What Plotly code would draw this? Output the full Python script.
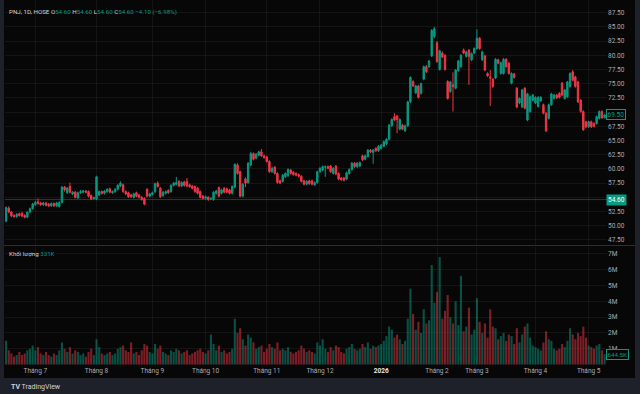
import pandas as pd
import plotly.graph_objects as go
from plotly.subplots import make_subplots

# ---------------- data ----------------
open_ = [50.8, 53.1, 52.4, 51.8, 51.6, 52.1, 52.2, 51.8, 51.5, 52.4, 53.0,
         53.7, 54.2, 54.0, 53.7, 54.0, 53.8, 53.5, 53.9, 53.5, 53.4,
         54.1, 56.8, 55.8, 56.9, 55.6, 55.9, 54.9, 55.8, 55.9, 56.1,
         56.0, 55.3, 54.8, 54.7, 55.4, 56.0, 55.7, 56.0, 56.5, 55.8,
         56.0, 56.4, 57.0, 57.2, 56.0, 55.8, 55.4, 55.0, 55.8, 55.4,
         55.0, 54.8, 56.4, 55.2, 55.5, 56.0, 57.5, 56.6, 55.3, 55.7,
         56.2, 56.0, 57.1, 57.3, 57.8, 57.0, 57.7, 57.8, 57.2, 57.0,
         56.9, 56.6, 56.0, 55.2, 54.8, 55.0, 54.7, 54.6, 55.7, 56.7,
         55.7, 56.6, 56.5, 56.3, 55.7, 56.8, 60.7, 59.5, 55.2, 58.2,
         57.6, 60.7, 62.7, 61.9, 62.4, 63.0, 62.3, 62.1, 61.3, 59.5,
         60.3, 59.2, 57.9, 57.8, 58.6, 58.8, 59.8, 59.4, 59.2, 59.0,
         58.7, 57.9, 57.3, 57.9, 57.9, 57.2, 57.6, 59.5, 59.8, 60.3,
         60.4, 60.5, 59.2, 60.5, 59.2, 58.4, 58.4, 58.2, 59.2, 59.9,
         61.0, 60.4, 60.5, 62.3, 61.7, 62.2, 63.3, 62.9, 63.6, 63.2,
         63.6, 64.0, 64.4, 65.2, 67.6, 69.2, 69.3, 67.0, 67.7, 66.7,
         67.6, 71.8, 75.4, 73.4, 74.6, 73.3, 75.8, 78.0, 78.0, 79.9,
         83.3, 82.2, 77.5, 80.4, 80.0, 75.4, 73.6, 74.8, 74.2, 77.3,
         78.0, 80.9, 79.8, 80.9, 79.2, 80.4, 81.2, 83.0, 79.2, 79.9,
         76.8, 76.2, 75.8, 76.0, 79.2, 76.8, 76.8, 79.3, 78.6, 75.1,
         76.7, 74.2, 71.6, 70.9, 74.2, 68.6, 70.1, 72.1, 71.6, 71.0,
         72.0, 71.3, 69.8, 68.9, 71.3, 72.4, 73.0, 73.3, 75.1, 72.4,
         72.7, 74.5, 77.1, 76.2, 75.3, 72.1, 70.1, 68.3, 67.4, 68.3,
         68.0, 68.0, 68.9, 70.1, 69.0]

high = [53.4, 53.4, 52.6, 52.0, 52.2, 52.3, 52.4, 52.0, 52.5, 53.2, 54.0,
        54.4, 54.8, 54.2, 54.2, 54.2, 54.0, 54.1, 54.1, 54.2, 54.3,
        57.0, 57.0, 56.8, 57.6, 56.1, 56.1, 56.0, 56.3, 56.3, 56.3,
        56.2, 55.5, 55.1, 58.8, 56.2, 56.2, 56.3, 56.6, 56.7, 56.2,
        56.6, 57.3, 57.8, 57.4, 56.2, 56.0, 55.6, 55.8, 56.0, 55.6,
        55.2, 55.0, 56.6, 55.8, 56.0, 57.6, 57.8, 56.8, 56.1, 56.2,
        56.4, 57.3, 57.7, 58.6, 58.0, 57.8, 57.9, 58.4, 57.4, 57.2,
        57.1, 56.8, 56.2, 55.4, 55.3, 55.2, 55.0, 56.1, 56.3, 56.9,
        56.5, 56.8, 56.7, 56.5, 57.1, 61.0, 61.0, 59.7, 57.5, 58.5,
        61.2, 63.0, 62.9, 62.8, 63.2, 63.5, 62.5, 62.3, 61.5, 60.4,
        60.5, 59.4, 58.1, 59.1, 59.4, 60.1, 60.0, 59.6, 59.4, 59.2,
        58.9, 58.1, 58.0, 58.1, 58.1, 57.8, 59.7, 60.3, 60.6, 60.6,
        60.6, 60.7, 60.3, 60.7, 59.4, 58.6, 58.6, 59.5, 60.1, 61.2,
        61.2, 61.2, 61.3, 62.5, 62.5, 63.5, 63.5, 63.5, 63.8, 64.2,
        64.4, 65.0, 65.4, 67.9, 68.9, 69.8, 69.5, 68.9, 67.9, 67.8,
        72.0, 76.3, 75.6, 74.8, 74.8, 75.2, 78.2, 78.3, 79.2, 84.6,
        85.0, 82.5, 81.0, 80.7, 80.2, 75.6, 75.5, 77.0, 77.6, 79.2,
        80.2, 81.2, 80.8, 81.1, 80.5, 81.4, 84.6, 83.2, 80.8, 80.1,
        77.0, 77.4, 76.0, 79.5, 79.4, 78.9, 79.5, 79.5, 78.8, 77.0,
        76.9, 74.4, 72.6, 74.1, 74.4, 73.4, 72.9, 73.2, 72.8, 72.8,
        72.8, 71.5, 70.0, 71.5, 73.4, 73.2, 73.2, 73.5, 75.3, 74.1,
        75.5, 77.0, 77.4, 76.4, 75.5, 72.3, 70.3, 68.5, 68.5, 68.5,
        68.2, 69.4, 70.3, 70.3, 69.7]

low = [50.6, 52.2, 51.5, 51.4, 51.4, 51.6, 51.5, 51.3, 51.3, 52.2, 52.8,
       53.5, 53.7, 53.5, 53.5, 53.4, 53.3, 53.3, 53.3, 53.3, 53.2,
       53.9, 56.0, 55.6, 55.7, 55.4, 54.8, 54.7, 55.6, 55.7, 55.7,
       55.0, 54.5, 54.6, 54.5, 55.2, 55.5, 55.5, 55.8, 55.7, 55.6,
       55.8, 56.2, 56.8, 55.8, 55.4, 54.9, 54.9, 54.8, 55.0, 54.8,
       54.4, 53.6, 55.0, 55.0, 55.3, 55.8, 56.7, 54.9, 55.1, 55.5,
       55.6, 55.8, 56.9, 57.1, 56.8, 56.8, 56.9, 56.8, 56.7, 56.4,
       55.8, 55.5, 54.8, 54.6, 54.6, 54.4, 54.5, 54.4, 55.5, 55.0,
       55.5, 55.7, 55.7, 55.5, 55.5, 56.6, 59.0, 55.0, 55.0, 56.8,
       57.4, 60.5, 61.5, 61.7, 62.2, 62.1, 61.8, 61.1, 59.3, 59.3,
       59.0, 57.4, 57.3, 57.6, 58.4, 58.6, 59.0, 58.8, 58.7, 58.5,
       57.6, 57.1, 57.1, 57.2, 57.1, 57.0, 57.4, 59.3, 59.6, 58.6,
       59.9, 59.3, 59.0, 58.9, 58.0, 57.9, 57.8, 58.0, 59.0, 59.7,
       60.2, 60.2, 60.3, 61.4, 61.5, 62.0, 62.8, 60.9, 63.0, 63.0,
       63.4, 63.8, 64.2, 65.0, 67.4, 68.4, 66.3, 66.8, 66.8, 66.5,
       67.4, 71.6, 74.4, 73.2, 72.4, 73.1, 75.6, 76.9, 77.8, 79.7,
       83.0, 78.7, 77.3, 79.5, 77.3, 72.2, 73.4, 70.1, 74.0, 77.1,
       77.8, 80.2, 79.6, 74.8, 79.0, 80.2, 81.0, 81.0, 79.0, 77.2,
       76.2, 71.1, 74.3, 75.8, 78.4, 76.6, 76.6, 77.8, 76.6, 74.9,
       75.9, 70.7, 71.4, 70.7, 70.5, 68.4, 69.9, 71.9, 71.4, 70.8,
       71.8, 69.6, 66.5, 68.7, 71.1, 72.2, 72.3, 72.4, 72.8, 72.2,
       72.5, 74.3, 75.4, 74.3, 71.6, 69.9, 66.7, 67.2, 67.2, 67.2,
       67.3, 67.8, 68.7, 68.8, 68.9]

close = [53.2, 52.4, 51.7, 51.6, 52.0, 51.8, 51.7, 51.5, 52.4, 53.0, 53.8,
         54.1, 53.9, 53.7, 54.0, 53.6, 53.5, 53.9, 53.5, 54.0, 54.1,
         56.8, 56.3, 56.6, 55.9, 55.9, 55.0, 55.8, 56.0, 56.1, 55.9,
         55.2, 54.7, 54.9, 58.6, 56.0, 55.7, 56.1, 56.4, 55.9, 56.0,
         56.4, 57.1, 57.5, 56.0, 55.6, 55.1, 55.1, 55.6, 55.2, 55.0,
         54.6, 53.8, 55.2, 55.6, 55.8, 57.4, 56.9, 55.1, 55.9, 56.0,
         55.8, 57.1, 57.5, 57.6, 57.0, 57.6, 57.1, 57.0, 56.9, 56.6,
         56.0, 55.7, 55.0, 54.8, 55.1, 54.6, 54.8, 55.9, 56.1, 55.2,
         56.3, 55.9, 55.9, 55.7, 56.9, 60.8, 59.2, 55.2, 57.3, 57.5,
         61.0, 62.7, 61.7, 62.6, 63.0, 62.3, 62.0, 61.3, 59.5, 60.1,
         59.2, 57.6, 57.5, 58.9, 59.2, 59.9, 59.2, 59.0, 58.9, 58.7,
         57.8, 57.3, 57.8, 57.4, 57.3, 57.6, 59.5, 60.1, 60.4, 60.4,
         60.1, 59.5, 60.1, 59.1, 58.2, 58.1, 58.0, 59.3, 59.9, 61.0,
         60.4, 61.0, 61.1, 61.6, 62.3, 63.3, 63.0, 63.3, 63.2, 64.0,
         64.2, 64.8, 65.2, 67.7, 68.7, 68.6, 68.7, 68.7, 67.0, 67.6,
         71.8, 76.1, 74.6, 74.6, 72.6, 75.0, 78.0, 77.1, 79.0, 84.4,
         84.7, 78.9, 80.8, 79.7, 77.5, 72.4, 75.3, 74.5, 77.4, 79.0,
         80.0, 80.4, 80.6, 79.8, 80.3, 81.2, 83.0, 81.2, 80.6, 77.4,
         76.4, 76.0, 74.5, 79.3, 78.6, 78.7, 79.3, 78.0, 76.8, 76.8,
         76.1, 70.9, 72.4, 73.9, 70.7, 73.2, 72.7, 73.0, 72.6, 72.6,
         72.6, 69.8, 66.7, 71.3, 73.2, 73.0, 72.5, 72.6, 73.0, 73.9,
         75.3, 76.8, 75.6, 74.5, 71.8, 70.1, 66.9, 67.4, 68.3, 67.4,
         67.5, 69.2, 70.1, 69.0, 69.5]

# volume in millions of shares
volume_m = [1.5, 0.9, 0.7, 0.5, 0.6, 0.8, 0.6, 0.7, 0.9, 1.0, 1.2,
            0.9, 1.1, 0.7, 0.6, 0.8, 0.6, 0.5, 0.7, 0.6, 0.9,
            1.4, 1.0, 0.8, 1.1, 0.7, 0.9, 0.8, 0.6, 0.7, 0.5,
            0.8, 1.0, 0.6, 1.6, 1.1, 0.7, 0.6, 0.7, 0.8, 0.6,
            0.7, 1.0, 1.1, 1.2, 0.9, 0.8, 1.4, 0.7, 0.8, 0.6,
            0.9, 1.3, 1.2, 0.8, 0.7, 1.3, 1.0, 1.2, 0.8, 0.7,
            0.6, 0.9, 0.8, 1.0, 0.9, 0.7, 0.8, 0.9, 0.6, 0.7,
            0.8, 0.9, 1.0, 0.8, 0.7, 0.9, 1.9, 1.3, 0.9, 1.2,
            0.8, 0.9, 0.7, 0.8, 1.0, 2.9, 2.0, 2.3, 1.6, 1.2,
            1.9, 1.7, 1.4, 1.0, 1.1, 1.2, 0.8, 1.0, 1.3, 1.1,
            1.0, 1.4, 0.9, 1.0, 0.9, 1.1, 0.8, 0.7, 0.8, 0.9,
            1.2, 1.0, 0.8, 0.9, 0.8, 0.7, 1.4, 1.2, 1.6, 1.0,
            0.8, 1.1, 0.9, 1.2, 1.1, 0.8, 0.7, 1.0, 1.1, 1.3,
            1.0, 0.9, 1.0, 1.3, 1.1, 1.4, 1.0, 1.2, 1.1, 1.2,
            1.3, 1.5, 1.8, 2.4, 2.2, 1.7, 1.9, 1.6, 1.3, 1.5,
            2.9, 4.8, 3.2, 2.2, 2.7, 2.0, 3.5, 2.6, 2.8, 6.3,
            3.9, 4.6, 6.8, 2.9, 3.4, 4.4, 3.0, 2.6, 4.0, 2.5,
            5.6, 2.1, 2.4, 3.6, 1.9, 2.2, 4.2, 2.7, 2.0, 2.6,
            1.7, 3.5, 2.4, 2.3, 1.6, 1.8, 2.0, 1.5, 1.9, 1.8,
            1.3, 2.3, 1.4, 1.9, 2.4, 2.6, 1.7, 1.2, 1.1, 1.0,
            0.9, 1.4, 2.1, 1.6, 1.5, 1.0, 0.9, 1.0, 1.3, 1.1,
            1.5, 2.3, 1.9, 1.6, 2.0, 1.8, 2.4, 1.7, 1.2, 1.1,
            1.0, 1.2, 1.3, 0.9, 0.6445]

price_tick_vals = [47.5, 50.0, 52.5, 55.0, 57.5, 60.0, 62.5, 65.0, 67.5,
                   70.0, 72.5, 75.0, 77.5, 80.0, 82.5, 85.0, 87.5]
price_tick_text = ["47.50", "50.00", "52.50", "55.00", "57.50", "60.00",
                   "62.50", "65.00", "67.50", "70.00", "72.50", "75.00",
                   "77.50", "80.00", "82.50", "85.00", "87.50"]
vol_tick_vals = [1, 2, 3, 4, 5, 6, 7]
vol_tick_text = ["1M", "2M", "3M", "4M", "5M", "6M", "7M"]
month_labels = ["Tháng 7", "Tháng 8", "Tháng 9", "Tháng 10", "Tháng 11",
                "Tháng 12", '<b><span style="color:#e6e8ee">2026</span></b>',
                "Tháng 2", "Tháng 3", "Tháng 4", "Tháng 5"]
holidays = ["2025-09-01", "2025-09-02", "2026-01-01", "2026-02-16",
            "2026-02-17", "2026-02-18", "2026-02-19", "2026-02-20",
            "2026-04-27", "2026-04-30", "2026-05-01"]

# ---------------- trading calendar -> bar index ----------------
days = pd.bdate_range("2025-06-16", "2026-06-30")
days = days[~days.isin(pd.to_datetime(holidays))][:len(close)]
xs = list(range(len(close)))
month_idx = [i for i in range(1, len(days)) if days[i].month != days[i - 1].month]

UP = "#089981"
DOWN = "#f23645"
BG = "#070707"
FRAME = "#1f212a"
GRID = "rgba(255,255,255,0.055)"
TXT = "#a9acb5"
FONT = "Roboto"

W, H = 640, 394
ML, MR, MT, MB = 5, 33, 0, 29
PW, PH = W - ML - MR, H - MT - MB


def px_x(p):
    return (p - ML) / PW


def px_y(p):
    return (H - MB - p) / PH


fig = make_subplots(rows=2, cols=1, shared_xaxes=True)

fig.add_trace(go.Candlestick(
    x=xs, open=open_, high=high, low=low, close=close,
    increasing=dict(line=dict(color=UP, width=1), fillcolor=UP),
    decreasing=dict(line=dict(color=DOWN, width=1), fillcolor=DOWN),
    whiskerwidth=0, hoverinfo="skip", showlegend=False), row=1, col=1)

vol_colors = ["rgba(8,153,129,0.5)" if c >= o else "rgba(242,54,69,0.5)"
              for o, c in zip(open_, close)]
fig.add_trace(go.Bar(x=xs, y=volume_m, marker=dict(color=vol_colors, line=dict(width=0)),
                     hoverinfo="skip", showlegend=False), row=2, col=1)

xr = [-0.4, len(close) - 0.1]
common_x = dict(range=xr, tickvals=month_idx, ticktext=month_labels, showgrid=True,
                gridcolor=GRID, gridwidth=1, zeroline=False, showline=False, ticks="",
                rangeslider=dict(visible=False), fixedrange=True)
fig.update_xaxes(**common_x)
fig.update_xaxes(showticklabels=False, row=1, col=1)
fig.update_xaxes(showticklabels=True, tickfont=dict(size=6.5, color=TXT, family=FONT),
                 row=2, col=1)

fig.update_layout(
    width=W, height=H,
    margin=dict(l=ML, r=MR, t=MT, b=MB),
    paper_bgcolor=FRAME, plot_bgcolor=BG,
    hovermode=False, bargap=0.2, boxgap=0.25,
    font=dict(family=FONT, size=6.5, color=TXT),
    yaxis=dict(domain=[px_y(245), 1], range=[46.6, 89.74], side="right",
               tickvals=price_tick_vals, ticktext=price_tick_text,
               showgrid=True, gridcolor=GRID, zeroline=False, ticks="",
               tickfont=dict(size=6.5, color=TXT, family=FONT), fixedrange=True),
    yaxis2=dict(domain=[0, px_y(247)], range=[-0.03, 7.44], side="right",
                tickvals=vol_tick_vals, ticktext=vol_tick_text,
                showgrid=True, gridcolor=GRID, zeroline=False, ticks="",
                tickfont=dict(size=6.5, color=TXT, family=FONT), fixedrange=True),
)

shapes = [
    # black chart canvas on the grey frame
    dict(type="rect", xref="paper", yref="paper", x0=px_x(4), x1=px_x(635),
         y0=px_y(378), y1=px_y(-2), fillcolor=BG, line=dict(width=0), layer="below"),
    # pane separator
    dict(type="line", xref="paper", yref="paper", x0=px_x(4), x1=px_x(635),
         y0=px_y(245.5), y1=px_y(245.5), line=dict(color="#2a2e39", width=1)),
    # crosshair price line at 54.60
    dict(type="line", xref="paper", yref="y", x0=0, x1=1, y0=54.6, y1=54.6,
         line=dict(color="rgba(8,153,129,0.45)", width=1)),
]
fig.update_layout(shapes=shapes)

last_close = close[-1]
last_vol = volume_m[-1]
hdr = (f'<span style="color:#d1d4dc">PNJ, 1D, HOSE</span> '
       f'<span style="color:#d1d4dc">O</span><span style="color:{UP}">54.60</span> '
       f'<span style="color:#d1d4dc">H</span><span style="color:{UP}">54.60</span> '
       f'<span style="color:#d1d4dc">L</span><span style="color:{UP}">54.60</span> '
       f'<span style="color:#d1d4dc">C</span><span style="color:{UP}">54.60</span> '
       f'<span style="color:{UP}">−4.10 (−6.98%)</span>')
annotations = [
    dict(xref="paper", yref="paper", x=px_x(7), y=px_y(12), xanchor="left", yanchor="middle",
         text=hdr, showarrow=False, font=dict(size=6.2, family=FONT)),
    dict(xref="paper", yref="paper", x=px_x(7), y=px_y(253.5), xanchor="left", yanchor="middle",
         text=f'<span style="color:#d1d4dc">Khối lượng</span> <span style="color:{UP}">331K</span>',
         showarrow=False, font=dict(size=6.2, family=FONT)),
    dict(xref="paper", yref="y", x=px_x(606), y=54.6, xanchor="left", yanchor="middle",
         text="54.60", showarrow=False, bgcolor=UP, borderpad=1,
         font=dict(size=6.5, color="#ffffff", family=FONT)),
    dict(xref="paper", yref="y", x=px_x(606), y=last_close, xanchor="left", yanchor="middle",
         text=f"{last_close:.2f}", showarrow=False, bgcolor=BG, bordercolor=UP, borderwidth=1,
         borderpad=0.5, font=dict(size=6.5, color=UP, family=FONT)),
    dict(xref="paper", yref="y2", x=px_x(606), y=last_vol, xanchor="left", yanchor="middle",
         text=f"{last_vol * 1000:.1f}K", showarrow=False, bgcolor=BG, bordercolor=UP,
         borderwidth=1, borderpad=0.5, font=dict(size=6.2, color=UP, family=FONT)),
    dict(xref="paper", yref="paper", x=px_x(9), y=px_y(386.5), xanchor="left", yanchor="middle",
         text='<b>TV</b> TradingView', showarrow=False,
         font=dict(size=7, color="#d1d4dc", family=FONT)),
]
fig.update_layout(annotations=annotations)

fig.write_html("out.html")
